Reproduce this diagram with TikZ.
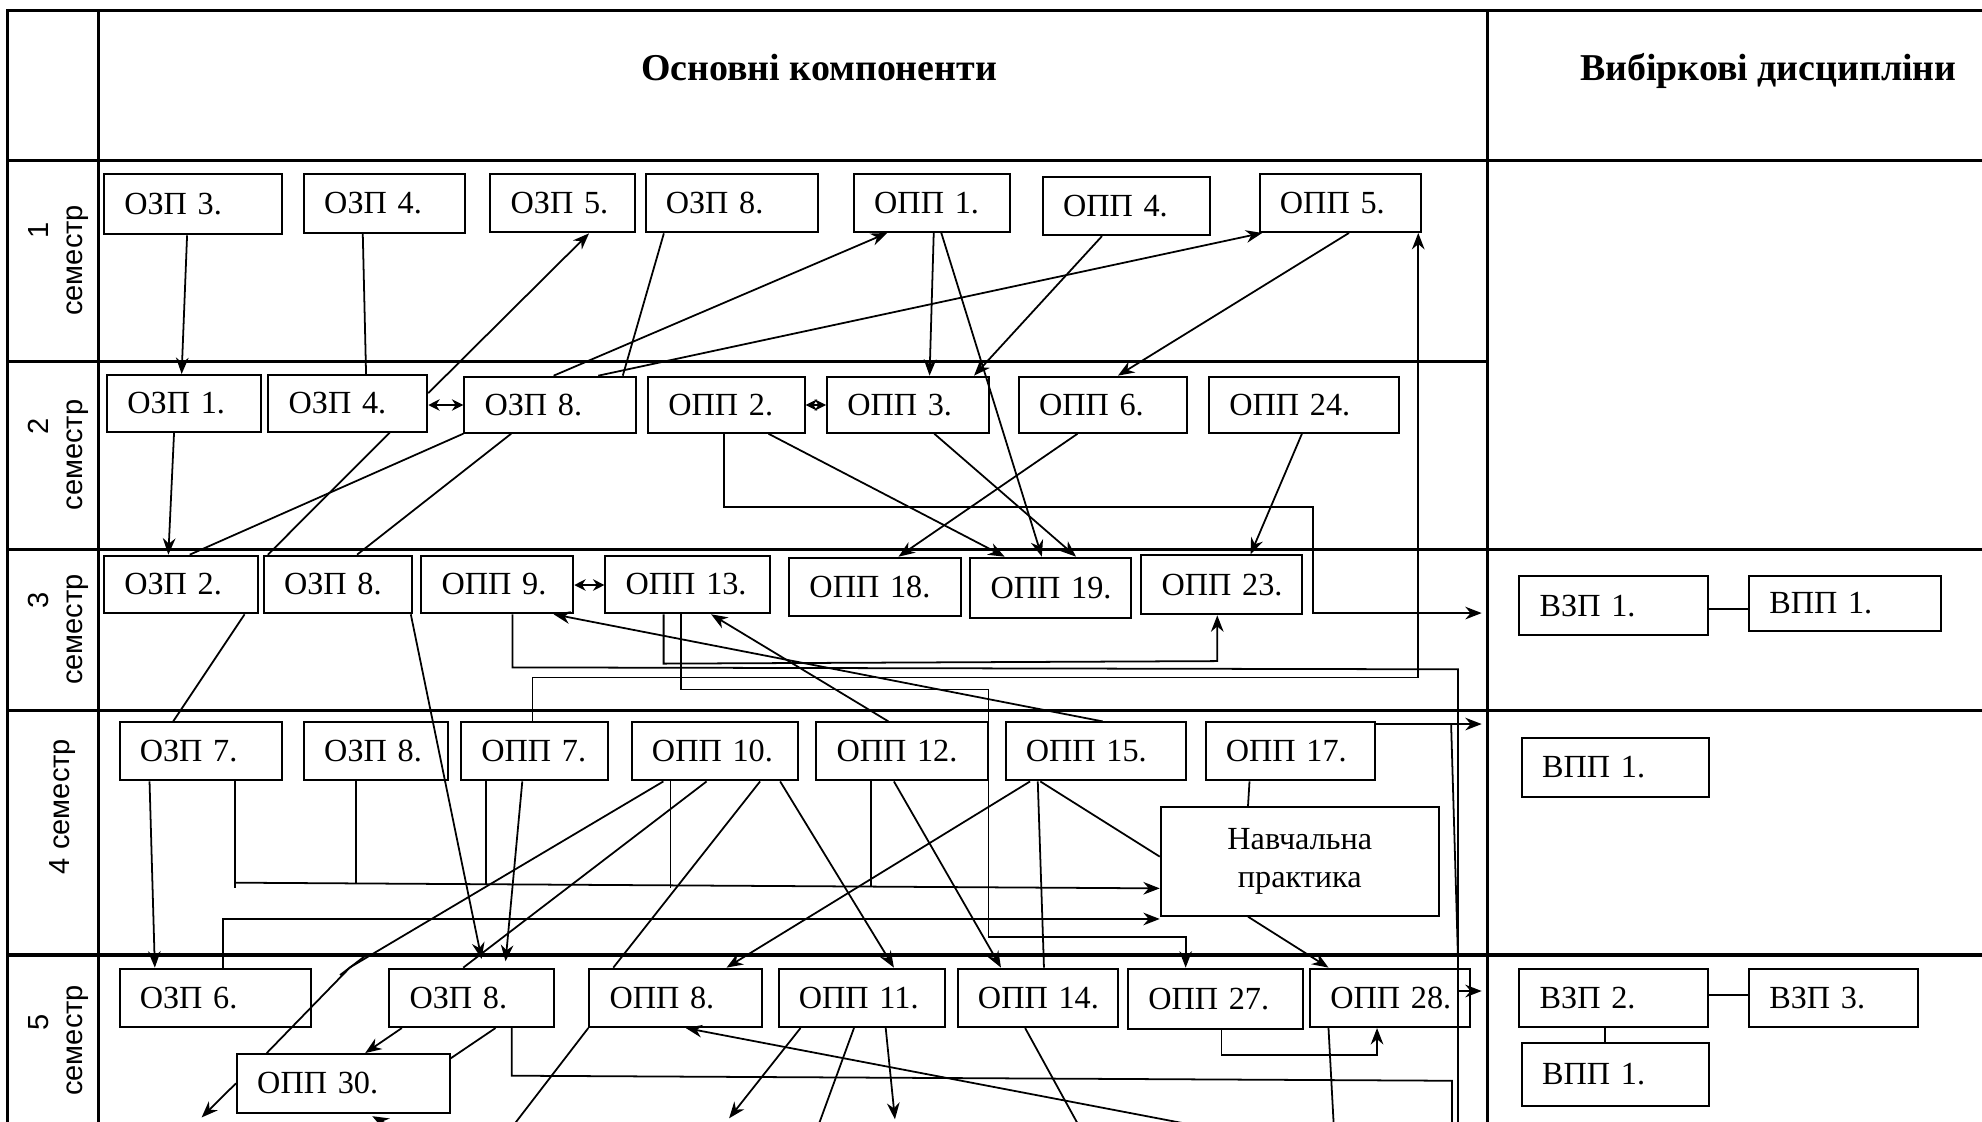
\documentclass[tikz,border=0pt]{standalone}
\usepackage{fontspec}
\setmainfont{Liberation Serif}
\newfontfamily\sidefont{Liberation Sans}
\usetikzlibrary{arrows.meta}
\newcommand\dbox[6]{%
  \pgfmathsetmacro\dbW{#4-#2}%
  \pgfmathsetmacro\dbH{#5-#3}%
  \pgfmathsetmacro\dbT{#4-#2-32}%
  \node[dbx, minimum width=\dbW pt, minimum height=\dbH pt, text width=\dbT pt] (#1) at ({(#2+#4)/2},{(#3+#5)/2}) {\mbox{#6}};}
\begin{document}
\begin{tikzpicture}[x=1pt,y=-1pt,
  tbl/.style={line width=2.4pt},
  dbx/.style={draw, line width=1.6pt, inner xsep=16pt, inner ysep=0pt, align=left, font=\fontsize{25.5}{30}\selectfont},
  ln/.style={line width=1.4pt},
  arr/.style={ln, -{Stealth[length=13pt,width=10pt]}},
  darr/.style={ln, {Stealth[length=9pt,width=9pt]}-{Stealth[length=9pt,width=9pt]}},
  sem/.style={font=\sidefont\fontsize{23}{27}\selectfont, rotate=90, anchor=base, inner sep=0pt},
  hdr/.style={font=\bfseries\fontsize{30}{36}\selectfont, anchor=base, inner sep=0pt}]
\useasboundingbox (0,0) rectangle (1568,887);
\clip (0,0) rectangle (1568,887);
% table
\draw[tbl] (6.3,8) -- (1580,8);
\draw[tbl] (6.3,7) -- (6.3,900);
\draw[tbl] (77.7,8) -- (77.7,900);
\draw[tbl] (1176.5,8) -- (1176.5,900);
\draw[tbl] (6.3,126.6) -- (1580,126.6);
\draw[tbl] (6.3,286) -- (1176.5,286);
\draw[tbl] (6.3,435) -- (1580,435);
\draw[tbl] (6.3,562) -- (1580,562);
\draw[tbl] (6.3,755.5) -- (1580,755.5);
% headers
\node[hdr] (h1) at (648,63.3) {Основні компоненти};
\node[hdr] (h2) at (1399,63.3) {Вибіркові дисципліни};
% side labels
\node[sem] (n1) at (38.5,182) {1};
\node[sem] (s1) at (65.3,206) {семестр};
\node[sem] (n2) at (38.5,337.6) {2};
\node[sem] (s2) at (65.3,360) {семестр};
\node[sem] (n3) at (38.5,474.7) {3};
\node[sem] (s3) at (65.3,498) {семестр};
\node[sem] (s4) at (54.7,638) {4 семестр};
\node[sem] (n5) at (38.5,809) {5};
\node[sem] (s5) at (65.3,823) {семестр};
% row 1
\dbox{a3}{82.3}{137.4}{223}{185.4}{ОЗП 3.}
\dbox{a4}{240.5}{137.4}{367.6}{184}{ОЗП 4.}
\dbox{a5}{388}{137.4}{502}{183.8}{ОЗП 5.}
\dbox{a8}{510.7}{137.4}{647}{183.8}{ОЗП 8.}
\dbox{p1}{675.6}{137.4}{798.8}{183.5}{ОПП 1.}
\dbox{p4}{825}{139.8}{957}{186}{ОПП 4.}
\dbox{p5}{996.6}{137.4}{1124.5}{183.5}{ОПП 5.}
% row 2
\dbox{b1}{84.8}{296.7}{206.6}{341.5}{ОЗП 1.}
\dbox{b4}{212.3}{296.7}{338}{341.5}{ОЗП 4.}
\dbox{b8}{367.3}{298}{503.2}{342.3}{ОЗП 8.}
\dbox{q2}{512.8}{298}{636.6}{342.3}{ОПП 2.}
\dbox{q3}{654.3}{298}{782.3}{342.3}{ОПП 3.}
\dbox{q6}{806}{298}{939.2}{342.3}{ОПП 6.}
\dbox{q24}{956.6}{298}{1106.8}{342.3}{ОПП 24.}
% row 3
\dbox{c2}{82.3}{439.6}{204.3}{485.2}{ОЗП 2.}
\dbox{c8}{208.7}{439.6}{326}{485.2}{ОЗП 8.}
\dbox{r9}{333.4}{439.6}{453.5}{485.2}{ОПП 9.}
\dbox{r13}{479}{439.6}{609.1}{485.2}{ОПП 13.}
\dbox{r18}{624.4}{441.2}{760}{487.3}{ОПП 18.}
\dbox{r19}{767.7}{441.2}{894.8}{489}{ОПП 19.}
\dbox{r23}{903}{439.4}{1030}{486}{ОПП 23.}
\dbox{v31}{1202}{456}{1351}{502.4}{ВЗП 1.}
\dbox{v32}{1383.7}{456}{1535.7}{499}{ВПП 1.}
% row 4
\dbox{d7}{94.6}{571.5}{223.2}{617.4}{ОЗП 7.}
\dbox{d8}{240.5}{571.5}{354.2}{617.4}{ОЗП 8.}
\dbox{s7}{364.8}{571.5}{481}{617.4}{ОПП 7.}
\dbox{s10}{499.8}{571.5}{631.3}{617.4}{ОПП 10.}
\dbox{s12}{645.8}{571.5}{781.5}{617.4}{ОПП 12.}
\dbox{s15}{795.6}{571.5}{938.4}{617.4}{ОПП 15.}
\dbox{s17}{953.8}{571.5}{1087.8}{617.4}{ОПП 17.}
\node[draw, line width=1.6pt, minimum width=220pt, minimum height=85.7pt, inner sep=0pt, align=center, font=\fontsize{25.5}{30}\selectfont] (np) at (1028.3,681.55) {Навчальна\\практика};
\dbox{v41}{1204}{584}{1351.7}{630.3}{ВПП 1.}
% row 5
\dbox{e6}{94.6}{766.3}{246}{812.5}{ОЗП 6.}
\dbox{e8}{308}{766.3}{438}{812.5}{ОЗП 8.}
\dbox{t30}{187.5}{833.9}{355.7}{880.3}{ОПП 30.}
\dbox{t8}{466.2}{766.3}{602.6}{812.5}{ОПП 8.}
\dbox{t11}{616}{766.3}{747.5}{812.5}{ОПП 11.}
\dbox{t14}{757.7}{766.3}{884.4}{812.5}{ОПП 14.}
\dbox{t27}{892.4}{766.3}{1030.5}{814}{ОПП 27.}
\dbox{t28}{1036.5}{766.3}{1163}{812.5}{ОПП 28.}
\dbox{v51}{1202}{766.3}{1351.3}{812.5}{ВЗП 2.}
\dbox{v52}{1383.7}{766.3}{1517}{812.5}{ВЗП 3.}
\dbox{v53}{1204}{825.4}{1351.7}{874.8}{ВПП 1.}
% free ends
\coordinate (fx1) at (1172.2,485);
\coordinate (fx2) at (1172.2,572.8);
\coordinate (fx3) at (1172.2,784);
\coordinate (fb1) at (1153.5,900);
\coordinate (fb2) at (1148.7,900);
\coordinate (fa1) at (159.5,884);
\coordinate (fa2) at (322,898);
\coordinate (fa3) at (576.8,884.7);
\coordinate (fa4) at (708,885.5);
\coordinate (fa5) at (975,896);
\coordinate (fe1) at (398.7,900);
\coordinate (fe2) at (645,897);
\coordinate (fe3) at (857,897);
\coordinate (fe4) at (1055.5,897);
% row1 -> row2
\draw[arr] (148,0 |- a3.south) -- (143.7,0 |- b1.north);
\draw[ln] (287,0 |- a4.south) -- (289.6,0 |- b4.north);
\draw[arr] (b4.east |- 0,311) -- (466,0 |- a5.south);
\draw[ln] (525.2,0 |- a8.south) -- (492.7,0 |- b8.north);
\draw[arr] (438,0 |- b8.north) -- (701.9,0 |- p1.south);
\draw[arr] (473.3,0 |- b8.north) -- (998.6,0 |- p5.south);
\draw[arr] (738.7,0 |- p1.south) -- (735.4,0 |- q3.north);
\draw[arr] (744.7,0 |- p1.south) -- (824.2,0 |- r19.north);
\draw[arr] (871.8,0 |- p4.south) -- (770.6,0 |- q3.north);
\draw[arr] (1067.2,0 |- p5.south) -- (884.4,0 |- q6.north);
\draw[arr] (421.3,0 |- s7.north) -- (421.3,536) -- (1122,536) -- (1122,0 |- p5.south);
\draw[darr] (b4.east |- 0,320.4) -- (b8.west |- 0,320.4);
\draw[darr] (q2.east |- 0,320.4) -- (q3.west |- 0,320.4);
% row2 -> row3
\draw[arr] (137.7,0 |- b1.south) -- (133.2,0 |- c2.north);
\draw[ln] (308.3,0 |- b4.south) -- (211.9,0 |- c8.north);
\draw[ln] (b8.south west) -- (150.1,0 |- c2.north);
\draw[ln] (404.4,0 |- b8.south) -- (282.5,0 |- c8.north);
\draw[arr] (607.9,0 |- q2.south) -- (794.8,0 |- r19.north);
\draw[arr] (572.8,0 |- q2.south) -- (572.8,400.8) -- (1039,400.8) -- (1039,485) -- (fx1);
\draw[arr] (739.1,0 |- q3.south) -- (851.3,0 |- r19.north);
\draw[arr] (852.5,0 |- q6.south) -- (710.8,0 |- r18.north);
\draw[arr] (1030,0 |- q24.south) -- (989.3,0 |- r23.north);
% row 3
\draw[darr] (r9.east |- 0,462.8) -- (r13.west |- 0,462.8);
\draw[ln] (v31.east |- 0,481.5) -- (v32.west |- 0,481.5);
\draw[ln] (193.5,0 |- c2.south) -- (137,0 |- d7.north);
\draw[arr, shorten >=7pt] (325,0 |- c8.south) -- (382.4,0 |- e8.north);
\draw[ln] (405.4,0 |- r9.south) -- (405.4,528) -- (1153.5,529.5) -- (fb1);
\draw[arr] (1153.5,784) -- (fx3);
\draw[arr] (525,0 |- r13.south) -- (525,525) -- (963,523) -- (963,0 |- r23.south);
\draw[arr] (538.6,0 |- r13.south) -- (538.6,545.4) -- (782,545.4) -- (782,741.5) -- (938,741.5) -- (938,0 |- t27.north);
\draw[arr] (702.8,0 |- s12.north) -- (562.6,0 |- r13.south);
\draw[arr] (872.3,0 |- s15.north) -- (438,0 |- r9.south);
% row 4
\draw[arr] (s17.east |- 0,572.8) -- (fx2);
\draw[ln] (1148,572.8) -- (1153.5,760);
\draw[ln] (988.5,0 |- s17.south) -- (987.3,0 |- np.north);
\draw[ln] (823,0 |- s15.south) -- (np.west |- 0,677.7);
\draw[arr] (814.9,0 |- s15.south) -- (574.8,0 |- t8.north);
\draw[ln] (821,0 |- s15.south) -- (825.9,0 |- t14.north);
\draw[arr] (707.2,0 |- s12.south) -- (791.9,0 |- t14.north);
\draw[ln] (689,0 |- s12.south) -- (689,701);
\draw[arr] (617.2,0 |- s10.south) -- (707.2,0 |- t11.north);
\draw[ln] (601.3,0 |- s10.south) -- (485.2,0 |- t8.north);
\draw[ln] (559,0 |- s10.south) -- (366.5,0 |- e8.north);
\draw[ln] (524.8,0 |- s10.south) -- (276.9,765.3) -- (211,0 |- t30.north);
\draw[ln] (269,771.4) -- (288.8,756.3);
\draw[ln] (530.4,0 |- s10.south) -- (530.4,702.5);
\draw[ln] (384.3,0 |- s7.south) -- (384.3,700);
\draw[arr, shorten >=5pt] (413.2,0 |- s7.south) -- (399.5,0 |- e8.north);
\draw[ln] (281.5,0 |- d8.south) -- (281.5,699);
\draw[ln] (186.1,0 |- d7.south) -- (186.1,702.8);
\draw[arr] (186.1,698.3) -- (np.west |- 0,702.8);
\draw[arr] (118.3,0 |- d7.south) -- (122.5,0 |- e6.north);
\draw[arr] (176.6,0 |- e6.north) -- (176.6,727) -- (np.west |- 0,727);
\draw[arr] (987.3,0 |- np.south) -- (1051,0 |- t28.north);
% row 5
\draw[arr] (966.3,0 |- t27.south) -- (966.3,834.6) -- (1089.4,834.6) -- (1089.4,0 |- t28.south);
\draw[arr] (317.9,0 |- e8.south) -- (288.9,0 |- t30.north);
\draw[ln] (392,0 |- e8.south) -- (t30.east |- 0,837.3);
\draw[ln] (404.8,0 |- e8.south) -- (404.8,851) -- (1148.7,855) -- (fb2);
\draw[arr] (t30.west |- 0,857) -- (fa1);
\draw[arr, shorten >=4pt] (fa2) -- (291,0 |- t30.south);
\draw[ln] (465.4,0 |- t8.south) -- (fe1);
\draw[arr] (633.3,0 |- t11.south) -- (fa3);
\draw[ln] (675.6,0 |- t11.south) -- (fe2);
\draw[arr] (700.7,0 |- t11.south) -- (fa4);
\draw[arr] (fa5) -- (542.5,0 |- t8.south);
\draw[ln] (811,0 |- t14.south) -- (fe3);
\draw[ln] (1051,0 |- t28.south) -- (fe4);
\draw[ln] (v51.east |- 0,787) -- (v52.west |- 0,787);
\draw[ln] (1269.7,0 |- v51.south) -- (1269.7,0 |- v53.north);
\end{tikzpicture}
\end{document}
